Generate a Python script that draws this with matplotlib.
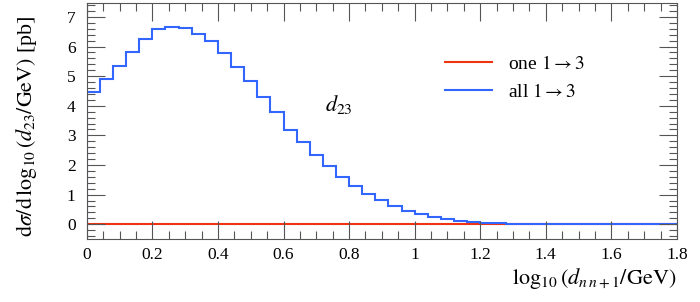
import numpy as np
import matplotlib
matplotlib.use("Agg")
import matplotlib.pyplot as plt
from matplotlib.ticker import MultipleLocator

plt.rcParams['font.family'] = ['Liberation Serif', 'DejaVu Serif']
plt.rcParams['mathtext.fontset'] = 'stix'

bin_edges = np.round(np.arange(0, 1.8001, 0.04), 4)
all_1to3 = [4.47, 4.89, 5.35, 5.80, 6.24, 6.59, 6.65, 6.63, 6.43, 6.19,
            5.78, 5.30, 4.85, 4.31, 3.79, 3.18, 2.78, 2.34, 1.97, 1.61,
            1.28, 1.02, 0.81, 0.63, 0.46, 0.35, 0.25, 0.17, 0.11, 0.075,
            0.05, 0.025, 0.015, 0.01, 0.006, 0.004, 0.003, 0.002, 0.001, 0.001,
            0.0, 0.0, 0.0, 0.0, 0.0]
one_1to3 = [0.0] * 45

red = '#ee3311'
blue = '#3366ff'

fig = plt.figure(figsize=(7.0, 3.02), dpi=100)
ax = fig.add_axes([0.124, 0.2086, 0.843, 0.7804])

ax.stairs(one_1to3, bin_edges, color=red, lw=1.5, label=r'one $1 \to 3$')
ax.stairs(all_1to3, bin_edges, color=blue, lw=1.5, label=r'all $1 \to 3$')

ax.set_xlim(0, 1.8)
ax.set_ylim(-0.5, 7.46)

ax.xaxis.set_major_locator(MultipleLocator(0.2))
ax.xaxis.set_minor_locator(MultipleLocator(0.05))
ax.yaxis.set_major_locator(MultipleLocator(1))
ax.yaxis.set_minor_locator(MultipleLocator(0.2))
ax.tick_params(which='both', direction='in', top=True, right=True, labelsize=12.5,
               color='#555555', width=0.8)
ax.tick_params(which='major', length=13)
ax.tick_params(axis='x', which='major', pad=6)
ax.tick_params(axis='y', which='major', pad=8)
ax.tick_params(which='minor', length=6)
ax.set_xticks(np.round(np.arange(0, 1.81, 0.2), 2))
ax.set_xticklabels(['0', '0.2', '0.4', '0.6', '0.8', '1', '1.2', '1.4', '1.6', '1.8'])
for s in ax.spines.values():
    s.set_color('#555555')

ax.set_xlabel(r'$\log_{10}(d_{n\,n+1}/\mathrm{GeV})$', fontsize=16, loc='right',
              labelpad=2)
ax.set_ylabel(r'$\mathrm{d}\sigma/\mathrm{d}\,\log_{10}(d_{23}/\mathrm{GeV})$ [pb]',
              fontsize=15.8, loc='top', labelpad=20)
ax.yaxis.label.set_y(0.95)

ax.text(0.769, 4.05, r'$d_{23}$', fontsize=16, ha='center', va='center')

ax.legend(loc='upper left', bbox_to_anchor=(0.578, 0.855), frameon=False, fontsize=14,
          handlelength=2.4, handletextpad=0.8, labelspacing=0.5)

fig.savefig('out.png', dpi=100)
